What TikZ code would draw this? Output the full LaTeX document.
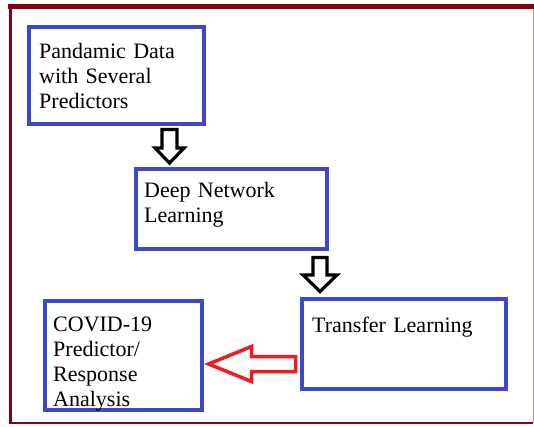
\documentclass[tikz,border=0pt]{standalone}
\usepackage{fontspec}
\setmainfont{Liberation Serif}
\usetikzlibrary{calc,positioning}

\definecolor{framered}{RGB}{136,0,21}
\definecolor{boxblue}{RGB}{63,72,204}
\definecolor{arrowred}{RGB}{237,28,36}

\tikzset{
  box/.style={draw=boxblue, line width=4pt, rectangle, inner sep=0pt},
  boxtext/.style={anchor=base west, inner sep=0pt, text width=170pt, align=left,
    font=\fontsize{22}{25}\selectfont},
  hollowarr/.style={draw=black, line width=3.2pt, line join=miter, fill=white},
  redarr/.style={draw=arrowred, line width=3.5pt, line join=miter, fill=white}
}

\begin{document}
\begin{tikzpicture}[x=1pt,y=-1pt]
\useasboundingbox (0,0) rectangle (534,426);
% outer frame
\draw[framered!45, line width=1pt] (533,6) -- (533,423);
\draw[framered, line width=1.2pt] (10,423) -- (533,423);
\draw[framered, line width=3pt] (10,5) -- (10,423.6);
\draw[framered, line width=5pt] (8,6.5) -- (534,6.5);

% define the four boxes
\node[box, minimum width=175pt, minimum height=97pt] (data) at (116.5,75.5) {};
\node[box, minimum width=191pt, minimum height=80pt] (deep) at (231.5,209) {};
\node[box, minimum width=204pt, minimum height=90pt] (transfer) at (404,344) {};
\node[box, minimum width=157pt, minimum height=109pt] (covid) at (123.5,355.5) {};

% texts, top left in each box
\node[boxtext] (datatext) at ([shift={(12,33)}]data.north west) {Pandamic Data\\with Several\\Predictors};
\node[boxtext] (deeptext) at ([shift={(10,30.5)}]deep.north west) {Deep Network\\Learning};
\node[boxtext] (transfertext) at ([shift={(12,35)}]transfer.north west) {Transfer Learning};
\node[boxtext, text width=150pt] (covidtext) at ([shift={(10,32)}]covid.north west) {COVID-19\\Predictor/\\Response\\Analysis};

% define the arrow axes
\coordinate (a1) at (169.5,0);
\coordinate (a2) at (320,0);
\coordinate (a3) at (0,364);

% hollow arrows
\draw[hollowarr] ($(data.south -| a1)+(-7.5,3.5)$) |- ($(deep.north -| a1)+(-14.5,-19)$)
  -- ($(deep.north -| a1)+(0,-4)$) -- ($(deep.north -| a1)+(14.5,-19)$)
  -| ($(data.south -| a1)+(7.5,3.5)$) -- cycle;
\draw[hollowarr] ($(deep.south -| a2)+(-7,6.5)$) |- ($(transfer.north -| a2)+(-17,-22)$)
  -- ($(transfer.north -| a2)+(0,-5.5)$) -- ($(transfer.north -| a2)+(17,-22)$)
  -| ($(deep.south -| a2)+(7,6.5)$) -- cycle;
\draw[redarr] ($(transfer.west |- a3)+(-4.5,-7.5)$) -| ($(covid.east |- a3)+(47.5,-17.5)$)
  -- ($(covid.east |- a3)+(4.5,0)$) -- ($(covid.east |- a3)+(47.5,17.5)$)
  |- ($(transfer.west |- a3)+(-4.5,7.5)$) -- cycle;
\end{tikzpicture}
\end{document}
